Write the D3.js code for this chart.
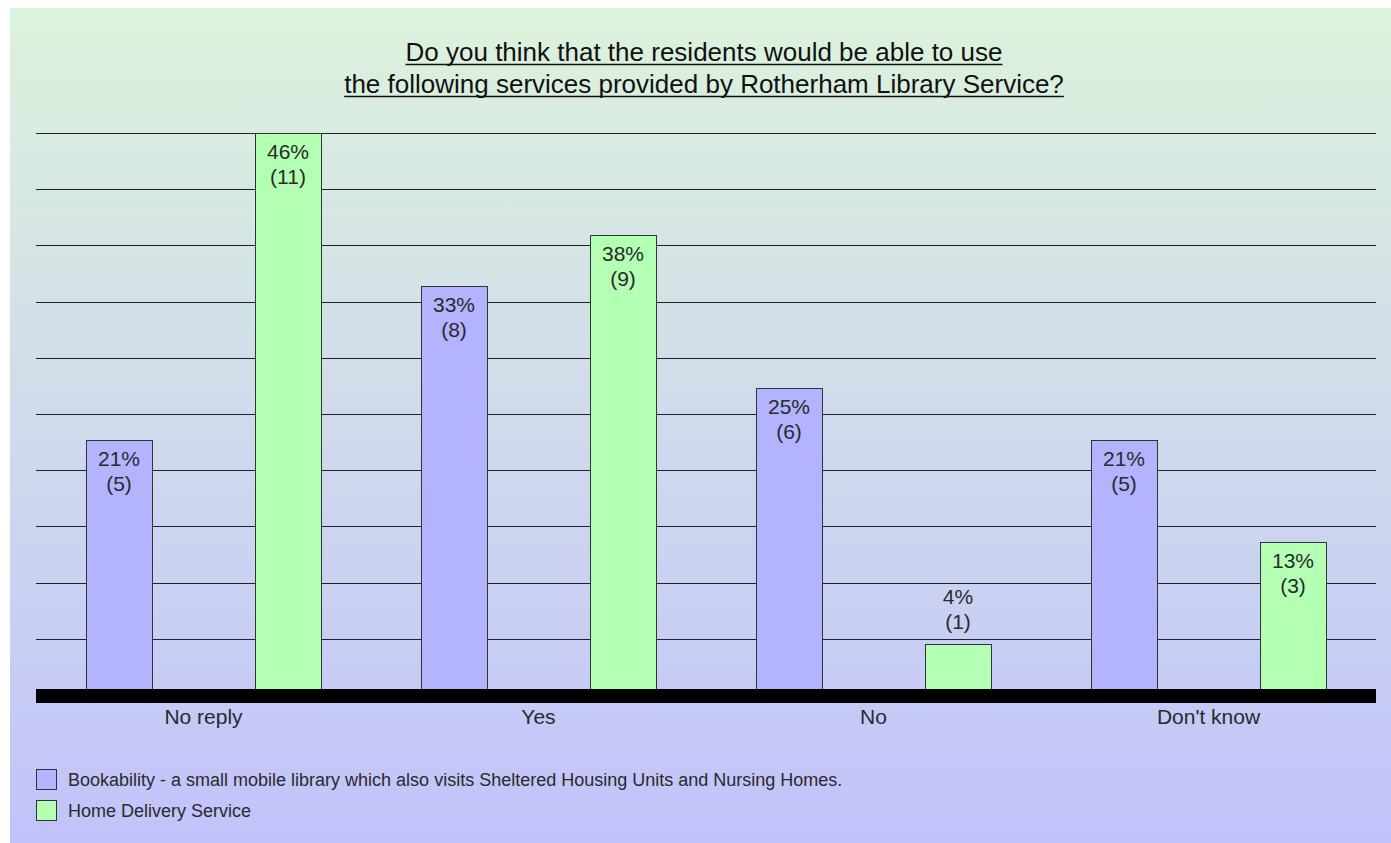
<!DOCTYPE html>
<html>
<head>
<meta charset="utf-8">
<script src="https://cdn.jsdelivr.net/npm/d3@7"></script>
<style>
  html, body { margin: 0; padding: 0; background: #fff; }
  svg { display: block; font-family: "Liberation Sans", Arial, sans-serif; }
</style>
</head>
<body>
<div id="chart"></div>
<script>
// Chart data
const categories = ['No reply', 'Yes', 'No', "Don't know"];
const seriesNames = [
	'Bookability - a small mobile library which also visits Sheltered Housing Units and Nursing Homes.',
	'Home Delivery Service'
];
const bookabilityCounts = [5, 8, 6, 5];
const homeDeliveryCounts = [11, 9, 1, 3];
const bookabilityPct = [21, 33, 25, 21];
const homeDeliveryPct = [46, 38, 4, 13];
const titleLines = [
	'Do you think that the residents would be able to use',
	'the following services provided by Rotherham Library Service?'
];
const yMax = 11;
const gridCount = 10;

const colors = ['#b3b3ff', '#b3ffb3'];

const W = 1391, H = 843;
const svg = d3.select('#chart').append('svg').attr('width', W).attr('height', H);

//Background panel with gradient
const defs = svg.append('defs');
const grad = defs.append('linearGradient').attr('id', 'bg').attr('x1', 0).attr('y1', 0).attr('x2', 0).attr('y2', 1);
grad.append('stop').attr('offset', '0%').attr('stop-color', '#dcf3dc');
grad.append('stop').attr('offset', '100%').attr('stop-color', '#c2c2fb');
svg.append('rect').attr('x', 10).attr('y', 8).attr('width', W - 10).attr('height', H - 8).attr('fill', 'url(#bg)');

//Title
const title = svg.append('g').attr('class', 'title');
titleLines.forEach((t, i) => {
	const txt = title.append('text')
		.attr('x', 704)
		.attr('y', 61 + i * 32)
		.attr('text-anchor', 'middle')
		.style('font-size', '26px')
		.style('fill', '#111')
		.text(t);
	const bb = txt.node().getBBox();
	title.append('line')
		.attr('x1', bb.x).attr('x2', bb.x + bb.width)
		.attr('y1', 64.5 + i * 32).attr('y2', 64.5 + i * 32)
		.style('stroke', '#111').style('stroke-width', 1.5);
});

//Scales
const plot = {left: 36, right: 1376, top: 133, bottom: 695};
const x0 = d3.scaleBand().domain(categories).range([plot.left, plot.right]);
const x1 = d3.scaleBand().domain(d3.range(seriesNames.length))
	.range([0, x0.bandwidth()])
	.paddingInner(0.604)
	.paddingOuter(0.293);
const y = d3.scaleLinear().domain([0, yMax]).range([plot.bottom, plot.top]);

//Gridlines
const gridVals = d3.range(1, gridCount + 1).map(i => i * yMax / gridCount);
svg.append('g').selectAll('line')
	.data(gridVals)
	.join('line')
	.attr('x1', plot.left).attr('x2', plot.right)
	.attr('y1', d => Math.round(y(d)) + 0.5).attr('y2', d => Math.round(y(d)) + 0.5)
	.style('stroke', '#222').style('stroke-width', 1);

//Bars
const series = [bookabilityCounts, homeDeliveryCounts];
const pcts = [bookabilityPct, homeDeliveryPct];
const barData = [];
categories.forEach((c, ci) => {
	series.forEach((s, si) => {
		barData.push({cat: c, si, count: s[ci], pct: pcts[si][ci]});
	});
});

const bars = svg.append('g').selectAll('g')
	.data(barData)
	.join('g');

bars.append('rect')
	.attr('x', d => Math.round(x0(d.cat) + x1(d.si)) + 0.5)
	.attr('y', d => Math.round(y(d.count)) + 0.5)
	.attr('width', Math.floor(x1.bandwidth()))
	.attr('height', d => plot.bottom - Math.round(y(d.count)))
	.style('fill', d => colors[d.si])
	.style('stroke', '#333')
	.style('stroke-width', 1);

//Value labels
bars.each(function(d){
	const g = d3.select(this);
	const cx = x0(d.cat) + x1(d.si) + x1.bandwidth() / 2;
	const top = y(d.count);
	const inside = (plot.bottom - top) > 70;
	const y1 = inside ? top + 26 : top - 40;
	const lines = [d.pct + '%', '(' + d.count + ')'];
	lines.forEach((t, i) => {
		g.append('text')
			.attr('x', cx)
			.attr('y', y1 + i * 25)
			.attr('text-anchor', 'middle')
			.style('font-size', '21px')
			.style('fill', '#2a2a2a')
			.text(t);
	});
});

//Axis band
svg.append('rect')
	.attr('x', plot.left).attr('y', 689)
	.attr('width', plot.right - plot.left).attr('height', 14)
	.style('fill', '#000');

//Category labels
svg.append('g').selectAll('text')
	.data(categories)
	.join('text')
	.attr('x', d => x0(d) + x0.bandwidth() / 2)
	.attr('y', 724)
	.attr('text-anchor', 'middle')
	.style('font-size', '21px')
	.style('fill', '#2a2a2a')
	.text(d => d);

//Legend
const legend = svg.append('g').selectAll('g')
	.data(seriesNames)
	.join('g')
	.attr('transform', (d, i) => `translate(36, ${769 + i * 31})`);
legend.append('rect')
	.attr('x', 0.5).attr('y', 0.5)
	.attr('width', 20).attr('height', 20)
	.style('fill', (d, i) => colors[i])
	.style('stroke', '#333');
legend.append('text')
	.attr('x', 32).attr('y', 17)
	.style('font-size', '18px')
	.style('fill', '#2a2a2a')
	.text(d => d);
</script>
</body>
</html>
